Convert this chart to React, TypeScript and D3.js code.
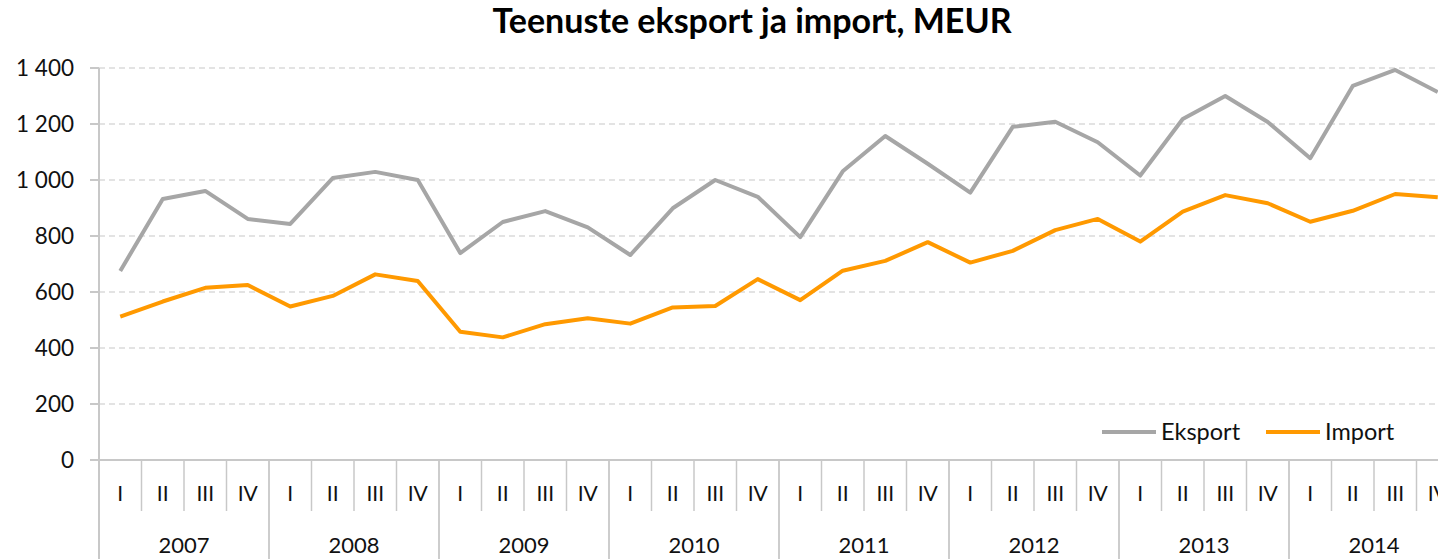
import React from "react";
import * as d3 from "d3";

// quarterly services trade, million EUR
const years = ["2007", "2008", "2009", "2010", "2011", "2012", "2013", "2014"];
const quarters = ["I", "II", "III", "IV"];
const eksport = [
  675, 932, 961, 861, 843, 1007, 1029, 1000, 739, 850, 889, 831, 732, 899, 1000, 940,
  796, 1031, 1157, 1058, 955, 1190, 1208, 1135, 1016, 1218, 1300, 1207, 1078, 1336, 1393, 1314,
];
const importVals = [
  512, 566, 615, 625, 548, 586, 663, 639, 458, 438, 485, 506, 487, 545, 550, 646,
  571, 676, 711, 778, 705, 747, 821, 861, 780, 887, 946, 917, 851, 890, 950, 938,
];
const yTicks = [0, 200, 400, 600, 800, 1000, 1200, 1400];

const W = 1438;
const H = 559;
const margin = { top: 68, left: 99, bottom: 99 };
const plotBottom = H - margin.bottom; // 460
const bandW = 42.5;

const font = "Lato, 'Open Sans', sans-serif";
const grey = "#A6A6A6";
const orange = "#FF9900";
const axisColor = "#C8C8C8";

const App: React.FC = () => {
  const labels = years.flatMap((y) => quarters.map((q) => `${y}-${q}`));

  const x = d3
    .scaleBand<string>()
    .domain(labels)
    .range([margin.left, margin.left + labels.length * bandW])
    .padding(0);

  const y = d3.scaleLinear().domain([0, 1400]).range([plotBottom, margin.top]);

  const cx = (i: number) => (x(labels[i]) as number) + x.bandwidth() / 2;

  const line = d3
    .line<number>()
    .x((_, i) => cx(i))
    .y((d) => y(d));

  const fmt = (v: number) => d3.format(",")(v).replace(/,/g, "\u00a0");

  return (
    <div style={{ position: "absolute", left: 0, top: 0 }}>
      <svg width={W} height={H} style={{ display: "block", background: "#fff" }}>
        <text
          x={752}
          y={33}
          textAnchor="middle"
          fontFamily={font}
          fontWeight="bold"
          fontSize={34}
          fill="#000"
        >
          Teenuste eksport ja import, MEUR
        </text>

        {/* gridlines */}
        {yTicks
          .filter((t) => t > 0)
          .map((t) => (
            <line
              key={"g" + t}
              x1={margin.left}
              x2={W}
              y1={y(t)}
              y2={y(t)}
              stroke="#DADADA"
              strokeWidth={1.3}
              strokeDasharray="6,4"
            />
          ))}

        {/* y axis */}
        <line x1={margin.left} x2={margin.left} y1={margin.top} y2={H} stroke={axisColor} strokeWidth={2} />
        {yTicks.map((t) => (
          <g key={"t" + t}>
            <line x1={margin.left - 9} x2={margin.left} y1={y(t)} y2={y(t)} stroke={axisColor} strokeWidth={2} />
            <text
              x={74}
              y={y(t)}
              dy="0.35em"
              textAnchor="end"
              fontFamily={font}
              fontSize={22.5}
              fill="#111"
            >
              {fmt(t)}
            </text>
          </g>
        ))}

        {/* x axis */}
        <line x1={margin.left - 9} x2={W} y1={plotBottom} y2={plotBottom} stroke={axisColor} strokeWidth={2} />
        {labels.map((l, i) => {
          const x0 = x(l) as number;
          const isYear = i % 4 === 0;
          return (
            <g key={l}>
              {i > 0 && (
                <line
                  x1={x0}
                  x2={x0}
                  y1={plotBottom}
                  y2={isYear ? H : 511}
                  stroke={axisColor}
                  strokeWidth={isYear ? 1.8 : 1.5}
                />
              )}
              <text
                x={cx(i)}
                y={494}
                dy="0.35em"
                textAnchor="middle"
                fontFamily={font}
                fontSize={21}
                fill="#111"
              >
                {quarters[i % 4]}
              </text>
            </g>
          );
        })}
        {years.map((yr, j) => (
          <text
            key={yr}
            x={(x(labels[j * 4]) as number) + 2 * bandW}
            y={545}
            dy="0.35em"
            textAnchor="middle"
            fontFamily={font}
            fontSize={22}
            fill="#111"
          >
            {yr}
          </text>
        ))}

        {/* series */}
        <path d={line(eksport) ?? ""} fill="none" stroke={grey} strokeWidth={4} strokeLinejoin="round" />
        <path d={line(importVals) ?? ""} fill="none" stroke={orange} strokeWidth={4} strokeLinejoin="round" />

        {/* legend */}
        <rect x={1095} y={415} width={310} height={36} fill="#fff" />
        <line x1={1102} x2={1156} y1={432} y2={432} stroke={grey} strokeWidth={4} />
        <text x={1161} y={432} dy="0.35em" fontFamily={font} fontSize={23.5} fill="#111">
          Eksport
        </text>
        <line x1={1266} x2={1320} y1={432} y2={432} stroke={orange} strokeWidth={4} />
        <text x={1325} y={432} dy="0.35em" fontFamily={font} fontSize={23.5} fill="#111">
          Import
        </text>
      </svg>
    </div>
  );
};

export default App;
